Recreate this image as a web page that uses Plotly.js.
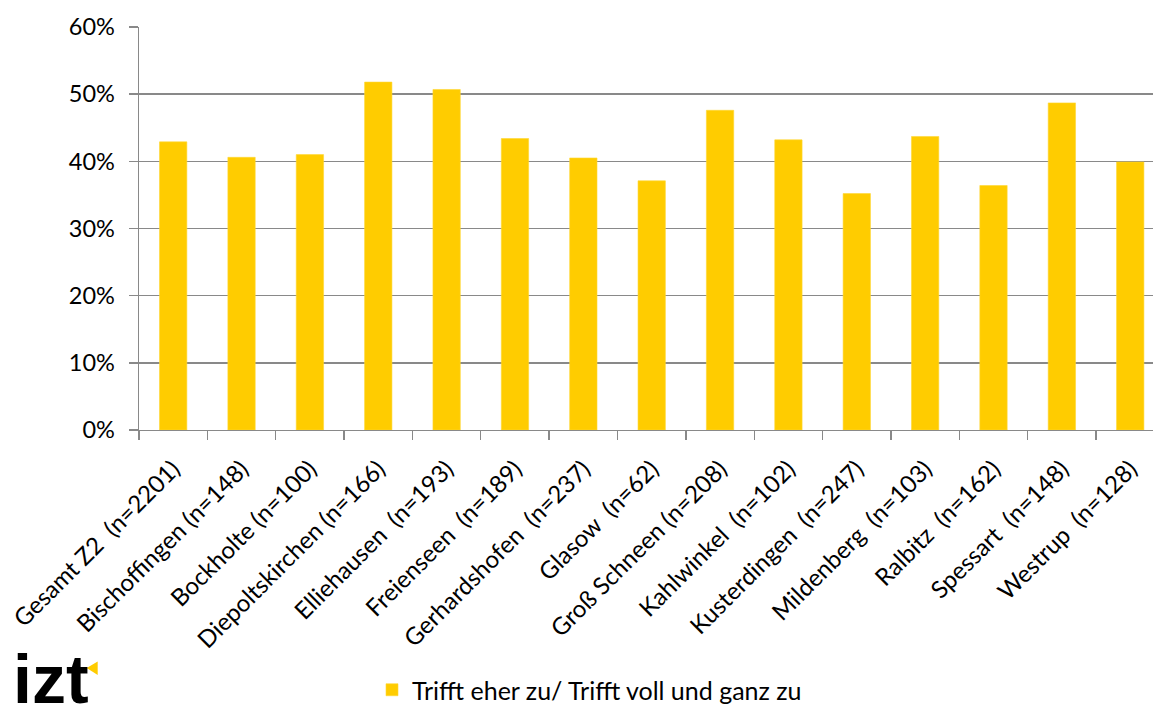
<!DOCTYPE html>
<html>
<head>
<meta charset="utf-8">
<script src="https://cdn.plot.ly/plotly-3.0.1.min.js"></script>
<style>html,body{margin:0;padding:0;background:#fff;}#chart{width:1153px;height:706px;}</style>
</head>
<body>
<div id="chart"></div>
<script>
const categories = [
  "Gesamt Z2 \u00a0(n=2201)",
  "Bischoffingen (n=148)",
  "Bockholte (n=100)",
  "Diepoltskirchen (n=166)",
  "Elliehausen \u00a0(n=193)",
  "Freienseen \u00a0(n=189)",
  "Gerhardshofen \u00a0(n=237)",
  "Glasow \u00a0(n=62)",
  "Groß Schneen (n=208)",
  "Kahlwinkel \u00a0(n=102)",
  "Kusterdingen \u00a0(n=247)",
  "Mildenberg \u00a0(n=103)",
  "Ralbitz \u00a0(n=162)",
  "Spessart \u00a0(n=148)",
  "Westrup \u00a0(n=128)"
];
const values = [0.429, 0.406, 0.410, 0.518, 0.507, 0.434, 0.405, 0.371, 0.476, 0.432, 0.352, 0.437, 0.364, 0.487, 0.399];
const seriesName = "Trifft eher zu/ Trifft voll und ganz zu";
const yTickValues = [0, 0.1, 0.2, 0.3, 0.4, 0.5, 0.6];

const W = 1153, H = 706;
const L = 139.3, T = 26.7, B = H - 430.5;
const plotW = W - L, plotH = H - T - B;
const px = x => (x - L) / plotW;
const py = y => (430.5 - y) / plotH;

const grey = '#898989';
const font = "Lato, 'Open Sans', sans-serif";

const trace = {
  type: 'bar',
  x: categories,
  y: values,
  name: seriesName,
  width: 0.4,
  marker: {color: '#FFCC00', line: {color: '#FFD633', width: 0.6}},
  hoverinfo: 'x+y'
};

const layout = {
  width: W, height: H,
  margin: {l: L, r: 0, t: T, b: B, pad: 0, autoexpand: false},
  paper_bgcolor: '#fff', plot_bgcolor: '#fff',
  font: {family: font, color: '#000', size: 22},
  showlegend: true,
  legend: {
    orientation: 'h',
    xref: 'container', yref: 'container',
    x: 372 / W, xanchor: 'left', y: (H - 690) / H, yanchor: 'middle',
    font: {family: font, size: 25, color: '#000'}, bgcolor: 'rgba(0,0,0,0)'
  },
  xaxis: {
    type: 'category',
    range: [-0.5, 14.5 - (1164.4 - W) / 68.34],
    tickson: 'boundaries',
    ticks: 'outside', ticklen: 9, tickcolor: grey, tickwidth: 1.4,
    showline: true, linecolor: grey, linewidth: 1.4,
    showgrid: false, zeroline: false,
    tickangle: -45,
    ticklabelstandoff: 14,
    tickfont: {family: font, size: 24, color: '#000'},
    fixedrange: true
  },
  yaxis: {
    range: [0, 0.6],
    tickvals: yTickValues,
    tickformat: '.0%',
    ticks: 'outside', ticklen: 9, tickcolor: grey, tickwidth: 1.4,
    showline: true, linecolor: grey, linewidth: 1.4,
    showgrid: true, gridcolor: grey, gridwidth: 1.4,
    zeroline: false,
    ticklabelstandoff: 9,
    tickfont: {family: font, size: 23.5, color: '#000'},
    fixedrange: true
  },
  annotations: [{
    xref: 'paper', yref: 'paper',
    x: px(11), y: py(720), xanchor: 'left', yanchor: 'bottom',
    text: '<b>izt</b>', showarrow: false,
    font: {family: "'Liberation Sans', Arial, sans-serif", size: 68, color: '#000'}
  }],
  shapes: [{
    type: 'path', xref: 'paper', yref: 'paper',
    path: `M ${px(87)} ${py(669)} L ${px(98)} ${py(662.5)} L ${px(98)} ${py(676)} Z`,
    fillcolor: '#FFCC00', line: {width: 0}
  }]
};

Plotly.newPlot('chart', [trace], layout, {displayModeBar: false, staticPlot: true});
</script>
</body>
</html>
